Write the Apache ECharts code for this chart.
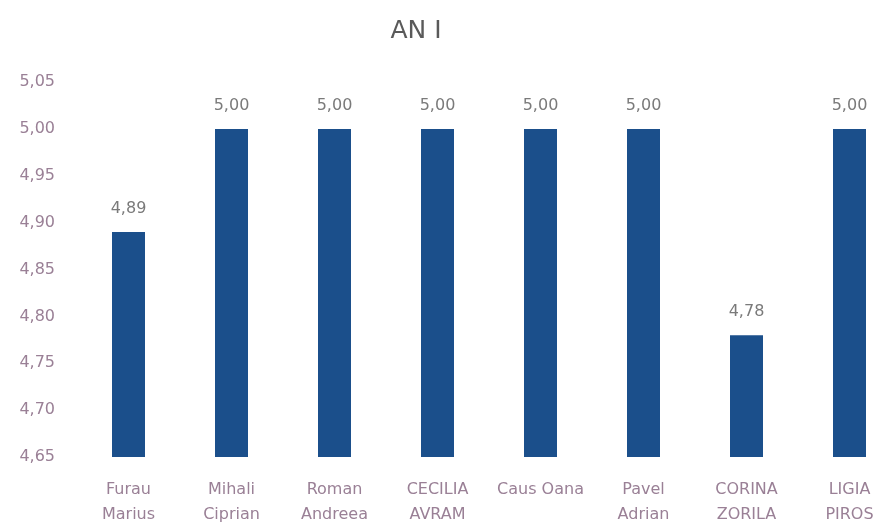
<!DOCTYPE html>
<html><head><meta charset="utf-8">
<script src="https://cdn.jsdelivr.net/npm/echarts@6/dist/echarts.min.js"></script>
<style>html,body{margin:0;padding:0;background:#fff}#c{width:878px;height:524px}</style>
</head><body><div id="c"></div>
<script>
const categories = ["Furau\nMarius","Mihali\nCiprian","Roman\nAndreea","CECILIA\nAVRAM","Caus Oana","Pavel\nAdrian","CORINA\nZORILA","LIGIA\nPIROS"];
const values = [4.89,5.00,5.00,5.00,5.00,5.00,4.78,5.00];
const yMin = 4.65, yMax = 5.05, yStep = 0.05;
const fmt = v => Number(v).toFixed(2).replace('.', ',');
const FONT = 'DejaVu Sans';
const chart = echarts.init(document.getElementById('c'));
chart.setOption({
  animation:false,
  title:{text:'AN I',left:411,top:14,textAlign:'center',textStyle:{fontFamily:FONT,fontSize:25,fontWeight:'normal',color:'#5a5a5a'}},
  grid:{left:77,right:-23,top:82,bottom:67,outerBoundsMode:'none',containLabel:false},
  xAxis:{type:'category',data:categories,axisLine:{show:false},axisTick:{show:false},
    axisLabel:{fontFamily:FONT,fontSize:16,color:'#9a8096',lineHeight:25,margin:20,interval:0}},
  yAxis:{type:'value',min:yMin,max:yMax,interval:yStep,splitLine:{show:false},axisLine:{show:false},axisTick:{show:false},
    axisLabel:{formatter:fmt,fontFamily:FONT,fontSize:16,color:'#9a8096',margin:22}},
  series:[{type:'bar',data:values,barWidth:33,itemStyle:{color:'#1b4f8b'},
    label:{show:true,position:'top',distance:15,formatter:p=>fmt(p.value),fontFamily:FONT,fontSize:16,color:'#7a7a7a'}}]
});
</script></body></html>
